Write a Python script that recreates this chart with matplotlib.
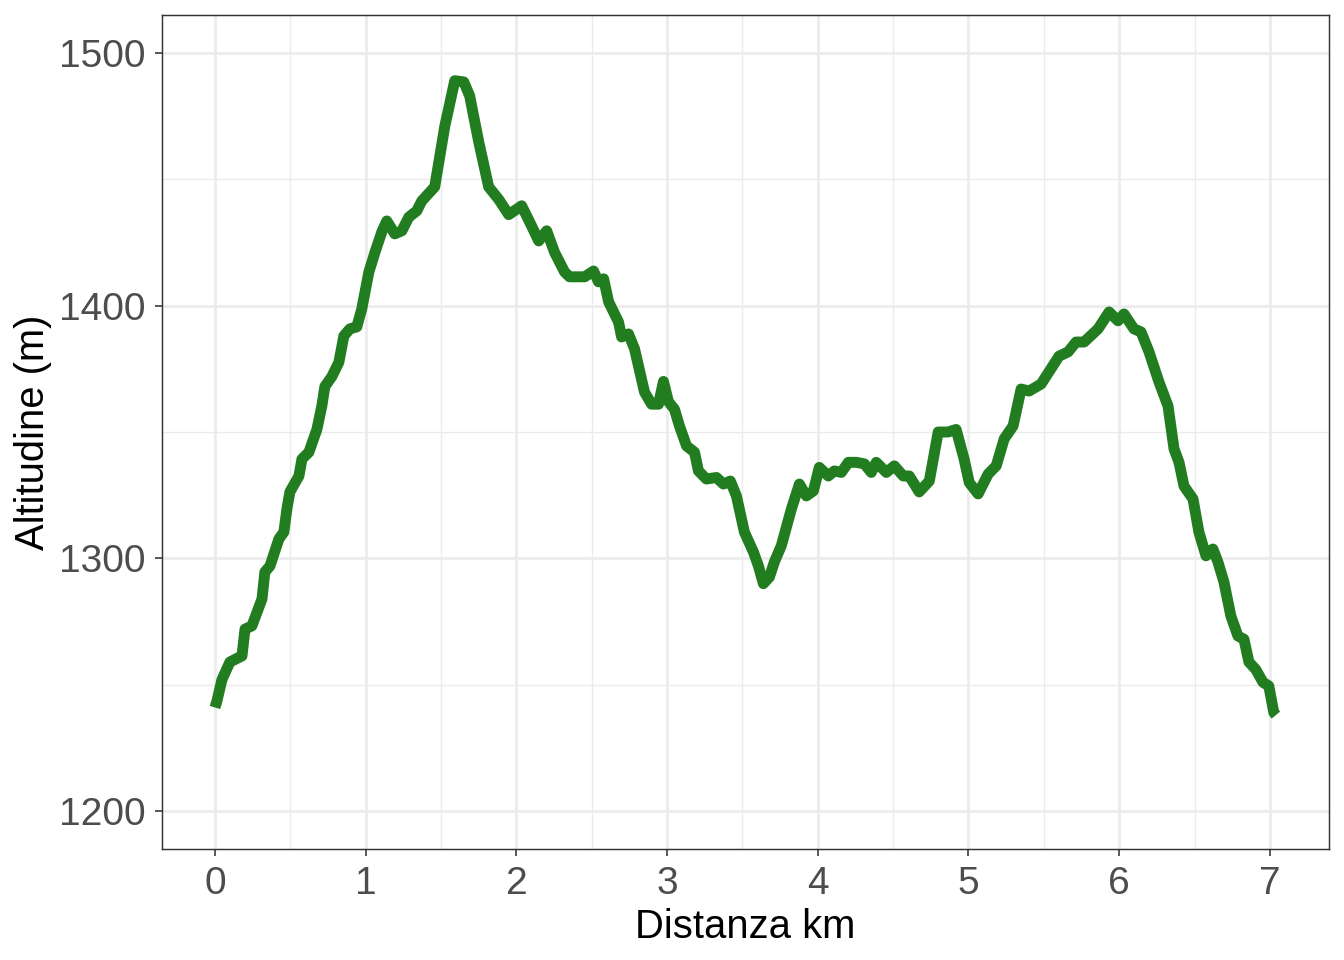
import numpy as np
import matplotlib
matplotlib.use('Agg')
import matplotlib.pyplot as plt
from matplotlib.ticker import MultipleLocator

# elevation profile
km = [0.0, 0.013, 0.046, 0.099, 0.179, 0.199, 0.245, 0.312, 0.331, 0.365,
      0.424, 0.457, 0.477, 0.497, 0.557, 0.577, 0.623, 0.676, 0.709, 0.729,
      0.776, 0.822, 0.855, 0.895, 0.941, 0.974, 1.021, 1.061, 1.107, 1.140,
      1.193, 1.240, 1.286, 1.339, 1.372, 1.458, 1.525, 1.591, 1.651, 1.690,
      1.750, 1.816, 1.883, 1.949, 2.035, 2.101, 2.148, 2.201, 2.254, 2.320,
      2.353, 2.453, 2.512, 2.545, 2.579, 2.612, 2.678, 2.698, 2.744, 2.784,
      2.830, 2.850, 2.897, 2.943, 2.976, 3.009, 3.049, 3.082, 3.129, 3.182,
      3.208, 3.261, 3.328, 3.374, 3.420, 3.460, 3.513, 3.573, 3.606, 3.639,
      3.679, 3.712, 3.758, 3.825, 3.878, 3.924, 3.971, 4.010, 4.070, 4.110,
      4.156, 4.203, 4.256, 4.309, 4.355, 4.388, 4.455, 4.508, 4.567, 4.607,
      4.673, 4.740, 4.799, 4.865, 4.918, 4.971, 5.005, 5.064, 5.131, 5.184,
      5.237, 5.296, 5.349, 5.402, 5.482, 5.601, 5.661, 5.714, 5.767, 5.860,
      5.933, 5.992, 6.032, 6.098, 6.145, 6.198, 6.264, 6.324, 6.364, 6.397,
      6.430, 6.490, 6.529, 6.576, 6.622, 6.655, 6.695, 6.741, 6.788, 6.828,
      6.861, 6.907, 6.954, 6.993, 7.026, 7.040]
alt = [1241, 1243.6, 1252, 1259, 1261.4, 1272, 1273.3, 1284, 1294.6, 1297,
       1307.7, 1310.4, 1319.5, 1326.3, 1332.6, 1339.3, 1342, 1351, 1360.3, 1368,
       1372, 1377.6, 1388, 1390.8, 1391.6, 1398.7, 1413.3, 1421, 1429.2, 1433.5,
       1428.4, 1429.6, 1435, 1437.5, 1441.4, 1447, 1471, 1489, 1488.5, 1483,
       1464.8, 1447, 1442, 1436, 1439.5, 1431.5, 1425.6, 1429.6, 1421, 1413.3,
       1411.4, 1411.4, 1413.7, 1409.4, 1410.6, 1401.5, 1393.5, 1387.6, 1388.8, 1382.9,
       1371, 1365.8, 1361, 1361, 1370, 1362, 1359, 1352.4, 1344.5, 1342,
       1334.6, 1331.4, 1332, 1329.4, 1330.6, 1324.7, 1310.4, 1302.5, 1297, 1290,
       1292.6, 1298.6, 1305, 1319.6, 1329.4, 1324.7, 1326.7, 1336, 1332.6, 1334.6,
       1334, 1338, 1338, 1337.4, 1334, 1338, 1334, 1336.6, 1332.6, 1332.6,
       1326.3, 1330.6, 1350, 1350, 1351, 1339.3, 1330, 1325.5, 1333.4, 1336.6,
       1347.3, 1352.4, 1367, 1366.2, 1369, 1380, 1381.7, 1385.6, 1385.6, 1390.8,
       1397.5, 1394, 1396.7, 1390.8, 1389.6, 1381.7, 1369.8, 1360.3, 1343.3, 1338,
       1328.6, 1323.5, 1310.4, 1301, 1303.7, 1298.6, 1290.7, 1277.2, 1269.3, 1268,
       1259, 1256, 1251, 1249.5, 1239, 1238]

plt.rcParams['font.family'] = ['Liberation Sans', 'DejaVu Sans']

fig = plt.figure(figsize=(7, 5), dpi=192)
ax = fig.add_axes([0.1205, 0.1156, 0.8683, 0.8688])

ax.plot(km, alt, color='#217D1F', linewidth=4.1, solid_capstyle='butt',
        solid_joinstyle='round', zorder=3)

span = km[-1] - km[0]
ax.set_xlim(km[0] - 0.05 * span, km[-1] + 0.05 * span)
ax.set_ylim(1185, 1515)

ax.xaxis.set_major_locator(MultipleLocator(1))
ax.xaxis.set_minor_locator(MultipleLocator(0.5))
ax.yaxis.set_major_locator(MultipleLocator(100))
ax.yaxis.set_minor_locator(MultipleLocator(50))
ax.set_yticks([1200, 1300, 1400, 1500])

ax.grid(which='major', color='#EBEBEB', linewidth=1.0, zorder=0)
ax.grid(which='minor', color='#EBEBEB', linewidth=0.5, zorder=0)
ax.set_axisbelow(True)

for s in ax.spines.values():
    s.set_color('#333333')
    s.set_linewidth(0.55)

ax.tick_params(which='major', length=2.75, width=0.6, color='#333333',
               labelsize=14.6, labelcolor='#4D4D4D', pad=3.5)
ax.tick_params(which='minor', length=0)

ax.set_xlabel('Distanza km', fontsize=15, color='black', labelpad=2.5)
ax.set_ylabel('Altitudine (m)', fontsize=15, color='black', labelpad=2.5)

fig.savefig('out.png', dpi=192)
